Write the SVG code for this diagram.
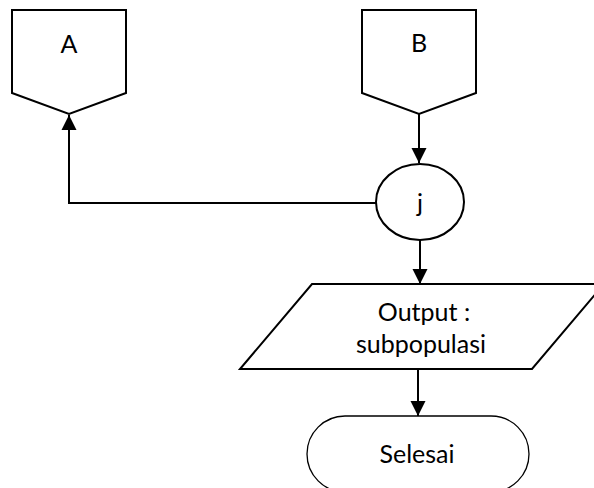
<svg xmlns="http://www.w3.org/2000/svg" width="594" height="488" viewBox="0 0 594 488">
  <defs>
    <marker id="arrow" markerWidth="15" markerHeight="16" refX="15" refY="7.5" orient="auto" markerUnits="userSpaceOnUse" viewBox="0 0 15 15">
      <path d="M0,0 L15,7.5 L0,15 Z" fill="#000"/>
    </marker>
    <style>
      .shape { fill: #fff; stroke: #000; stroke-width: 2; stroke-linejoin: miter; }
      .thin { fill: #fff; stroke: #000; stroke-width: 1.3; }
      .label { font-family: Lato, "Liberation Sans", sans-serif; font-size: 25px; fill: #000; text-anchor: middle; }
      .conn { fill: none; stroke: #000; stroke-width: 2; }
    </style>
  </defs>
  <rect width="594" height="488" fill="#fff"/>

  <!-- connectors -->
  <g id="connectors">
    <path class="conn" d="M419,114 L419,163" marker-end="url(#arrow)"/>
    <path class="conn" d="M376,203 L69,203 L69,115" marker-end="url(#arrow)"/>
    <path class="conn" d="M420,240 L420,284" marker-end="url(#arrow)"/>
    <path class="conn" d="M418,369 L418,416" marker-end="url(#arrow)"/>
  </g>

  <!-- off-page connector A -->
  <g id="node-a">
    <path class="shape" d="M12,10 L126,10 L126,93 L69,114 L12,93 Z"/>
    <text class="label" x="69" y="53">A</text>
  </g>

  <!-- off-page connector B -->
  <g id="node-b">
    <path class="shape" d="M362,10 L476,10 L476,93 L419,114 L362,93 Z"/>
    <text class="label" x="419" y="52">B</text>
  </g>

  <!-- junction j -->
  <g id="node-j">
    <ellipse class="shape" cx="420" cy="202" rx="44" ry="38"/>
    <text class="label" x="420" y="212">j</text>
  </g>

  <!-- output -->
  <g id="node-output">
    <path class="shape" d="M312,284 L604,284 L532,369 L240,369 Z"/>
    <text class="label" x="424" y="321">Output :</text>
    <text class="label" x="421" y="353">subpopulasi</text>
  </g>

  <!-- terminator -->
  <g id="node-selesai">
    <rect class="thin" x="307" y="416" width="222" height="76" rx="38" ry="38"/>
    <text class="label" x="417" y="463">Selesai</text>
  </g>
</svg>
